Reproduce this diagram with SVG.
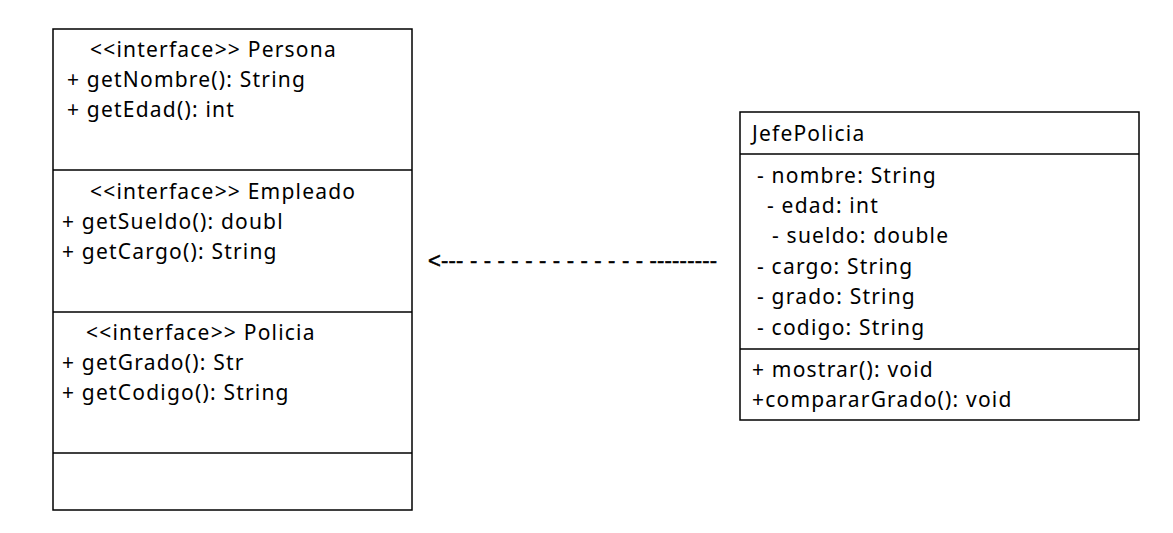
<svg xmlns="http://www.w3.org/2000/svg" width="1173" height="533" viewBox="0 0 1173 533">
<style>
.box{fill:#fff;stroke:#000;stroke-width:1.5}
.div{stroke:#000;stroke-width:1.3;fill:none}
.t{font-family:"Noto Sans","Liberation Sans",Arial,sans-serif;font-size:21px;fill:#000;letter-spacing:1.2px}
.arr{font-family:"Liberation Sans",Arial,sans-serif;font-size:22px;fill:#000;stroke:#000;stroke-width:0.5}
</style>
<rect width="1173" height="533" fill="#fff"/>
<g id="interfaces">
<rect class="box" x="53" y="29" width="359" height="481"/>
<line class="div" x1="53" y1="170" x2="412" y2="170"/>
<line class="div" x1="53" y1="312" x2="412" y2="312"/>
<line class="div" x1="53" y1="453" x2="412" y2="453"/>
<g id="persona">
<text class="t" x="90" y="57">&lt;&lt;interface&gt;&gt; Persona</text>
<text class="t" x="67" y="87">+ getNombre(): String</text>
<text class="t" x="67" y="117">+ getEdad(): int</text>
</g>
<g id="empleado">
<text class="t" x="90" y="199">&lt;&lt;interface&gt;&gt; Empleado</text>
<text class="t" x="62" y="229">+ getSueldo(): doubl</text>
<text class="t" x="62" y="259">+ getCargo(): String</text>
</g>
<g id="policia">
<text class="t" x="86" y="340">&lt;&lt;interface&gt;&gt; Policia</text>
<text class="t" x="62" y="370">+ getGrado(): Str</text>
<text class="t" x="62" y="400">+ getCodigo(): String</text>
</g>
</g>
<g id="jefePolicia">
<rect class="box" x="740" y="112" width="399" height="308"/>
<line class="div" x1="740" y1="154" x2="1139" y2="154"/>
<line class="div" x1="740" y1="349" x2="1139" y2="349"/>
<text class="t" x="752" y="141">JefePolicia</text>
<text class="t" x="757" y="183">- nombre: String</text>
<text class="t" x="767" y="213">- edad: int</text>
<text class="t" x="772" y="243">- sueldo: double</text>
<text class="t" x="757" y="274">- cargo: String</text>
<text class="t" x="757" y="304">- grado: String</text>
<text class="t" x="757" y="335">- codigo: String</text>
<text class="t" x="752" y="377">+ mostrar(): void</text>
<text class="t" x="752" y="407">+compararGrado(): void</text>
</g>
<g id="connectors">
<text class="arr" x="428" y="268" textLength="289" lengthAdjust="spacing">&lt;--- - - - - - - - - - - - - - ---------</text>
</g>
</svg>
